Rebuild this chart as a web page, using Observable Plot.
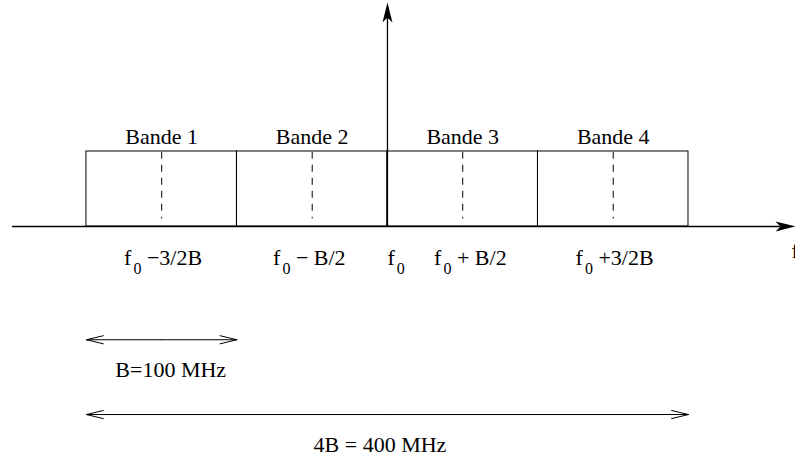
<!DOCTYPE html>
<html><head><meta charset="utf-8">
<script src="https://cdn.jsdelivr.net/npm/d3@7"></script>
<script src="https://cdn.jsdelivr.net/npm/@observablehq/plot@0.6"></script>
<style>html,body{margin:0;padding:0;background:#fff;overflow:hidden}</style>
</head><body><div id="chart"></div>
<script>
// Frequencies in MHz relative to f0 (B = 100 MHz)
const bandNames = ["Bande 1", "Bande 2", "Bande 3", "Bande 4"];
const bandStart = [-200, -100, 0, 100];
const bandEnd = [-100, 0, 100, 200];
const bandCenter = [-150, -50, 50, 150];
const freqLabelX = [-175, -76, 0, 31, 125];
const freqLabelRest = [" −3/2B", " − B/2", "", " + B/2", " +3/2B"];
const spanStart = [-200, -200];
const spanEnd = [-100, 200];
const spanLevel = [-1.51, -2.507];
const spanLabels = ["B=100 MHz", "4B = 400 MHz"];
const spanLabelX = [-144, -5];

const bands = bandNames.map((name, i) => ({name, x1: bandStart[i], x2: bandEnd[i], xc: bandCenter[i]}));
const freqLabels = freqLabelX.map((x, i) => ({x, text: "f0" + freqLabelRest[i]}));
const spans = spanLabels.map((label, i) => ({label, x1: spanStart[i], x2: spanEnd[i], xm: (spanStart[i] + spanEnd[i]) / 2, y: spanLevel[i], lx: spanLabelX[i]}));

const xMin = -257.1, xMax = 271.1, yTop = 2.987;
const heads = [{x: xMax, y: 0, rot: 90}, {x: 0, y: yTop, rot: 0}];
const arrowHead = {draw(ctx) { ctx.moveTo(0, 0); ctx.lineTo(5, 20); ctx.lineTo(0, 15); ctx.lineTo(-5, 20); ctx.closePath(); }};

const svg = Plot.plot({
  width: 795, height: 458, margin: 0,
  x: {domain: [xMin, xMax], axis: null},
  y: {domain: [-3.093, 3.013], axis: null},
  style: {fontFamily: '"Liberation Serif", serif', fontSize: "22px", background: "white", overflow: "hidden"},
  marks: [
    Plot.rect(bands, {x1: "x1", x2: "x2", y1: 0, y2: 1, fill: "none", stroke: "black", strokeWidth: 1}),
    Plot.ruleX(bands, {x: "xc", y1: 0.99, y2: 0.1, stroke: "black", strokeWidth: 1, strokeDasharray: "7,6"}),
    Plot.ruleY([0], {x1: -249.2, x2: xMax - 10, stroke: "black", strokeWidth: 1.3}),
    Plot.ruleX([0], {y1: 0, y2: yTop - 0.2, stroke: "black", strokeWidth: 1.3}),
    Plot.dot(heads, {x: "x", y: "y", rotate: "rot", symbol: arrowHead, fill: "black", stroke: "none", r: 5}),
    Plot.text(bands, {x: "xc", y: 1.2, text: "name", fontSize: 22, fill: "black"}),
    Plot.text(freqLabels, {x: "x", y: -0.413, text: "text", textAnchor: "start", fontSize: 22, fill: "black", ariaDescription: "freq-label"}),
    Plot.text(["f"], {x: 268.4, y: -0.33, text: d => d, textAnchor: "start", fontSize: 22, fill: "black"}),
    Plot.arrow(spans, {x1: "xm", x2: "x2", y1: "y", y2: "y", stroke: "black", strokeWidth: 1, headLength: 26, headAngle: 27}),
    Plot.arrow(spans, {x1: "xm", x2: "x1", y1: "y", y2: "y", stroke: "black", strokeWidth: 1, headLength: 26, headAngle: 27}),
    Plot.text(spans, {x: "lx", y: d => d.y - 0.405, text: "label", fontSize: 22, fill: "black"})
  ]
});

d3.select(svg).selectAll('g[aria-description="freq-label"] text').each(function(_, i) {
  const t = d3.select(this);
  t.text(null);
  t.append("tspan").text("f");
  t.append("tspan").attr("dy", 9).attr("dx", 2).attr("font-size", 16).text("0");
  t.append("tspan").attr("dy", -9).text(freqLabelRest[i]);
});

document.getElementById("chart").appendChild(svg);
</script>
</body></html>
